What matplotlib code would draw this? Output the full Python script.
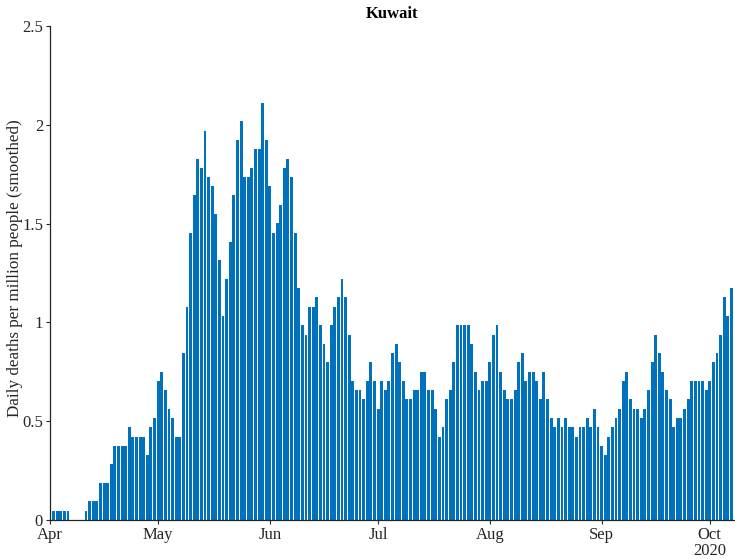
import pandas as pd
import matplotlib
matplotlib.use("Agg")
import matplotlib.pyplot as plt
import matplotlib.dates as mdates

# daily deaths per million (smoothed), Kuwait, 2 Apr - 7 Oct 2020
apr = [0.047, 0.047, 0.047, 0.047, 0.047, 0, 0, 0, 0, 0.047,
       0.094, 0.094, 0.094, 0.188, 0.188, 0.188, 0.281, 0.375, 0.375, 0.375,
       0.375, 0.469, 0.422, 0.422, 0.422, 0.422, 0.328, 0.469, 0.516]
may = [0.704, 0.750, 0.657, 0.563, 0.516, 0.422, 0.422, 0.844, 1.079, 1.454,
       1.642, 1.829, 1.782, 1.970, 1.735, 1.688, 1.548, 1.313, 1.032, 1.219,
       1.407, 1.642, 1.923, 2.017, 1.735, 1.735, 1.782, 1.876, 1.876, 2.111,
       1.923]
jun = [1.688, 1.454, 1.501, 1.595, 1.782, 1.829, 1.735, 1.454, 1.173, 0.985,
       0.938, 1.079, 1.079, 1.126, 0.985, 0.891, 0.797, 0.985, 1.079, 1.126,
       1.219, 1.126, 0.938, 0.704, 0.657, 0.657, 0.610, 0.704, 0.797, 0.704]
jul = [0.563, 0.704, 0.657, 0.704, 0.844, 0.891, 0.797, 0.704, 0.610, 0.610,
       0.657, 0.657, 0.750, 0.750, 0.657, 0.657, 0.563, 0.422, 0.469, 0.610,
       0.657, 0.797, 0.985, 0.985, 0.985, 0.985, 0.891, 0.750, 0.657, 0.704,
       0.704]
aug = [0.797, 0.938, 0.985, 0.750, 0.657, 0.610, 0.610, 0.657, 0.797, 0.844,
       0.704, 0.750, 0.750, 0.704, 0.610, 0.750, 0.610, 0.516, 0.469, 0.516,
       0.469, 0.516, 0.469, 0.469, 0.422, 0.469, 0.469, 0.516, 0.469, 0.563,
       0.469]
sep = [0.375, 0.328, 0.422, 0.469, 0.516, 0.563, 0.704, 0.750, 0.610, 0.563,
       0.563, 0.516, 0.563, 0.657, 0.797, 0.938, 0.844, 0.750, 0.657, 0.610,
       0.469, 0.516, 0.516, 0.563, 0.610, 0.704, 0.704, 0.704, 0.704, 0.657]
octo = [0.704, 0.797, 0.844, 0.938, 1.126, 1.032, 1.173]

deaths = apr + may + jun + jul + aug + sep + octo
dates = pd.date_range("2020-04-02", periods=len(deaths), freq="D")

plt.rcParams['font.family'] = ['Liberation Serif', 'DejaVu Serif']

fig = plt.figure(figsize=(7.35, 5.59), dpi=100)
ax = fig.add_axes([0.068, 0.070, 0.932, 0.8835])

ax.bar(dates, deaths, width=0.8, color='#0072BD', edgecolor='none')

ax.set_xlim(pd.Timestamp("2020-04-01"), pd.Timestamp("2020-10-08"))
ax.set_ylim(0, 2.5)
ax.set_yticks([0, 0.5, 1, 1.5, 2, 2.5])
ax.set_yticklabels(["0", "0.5", "1", "1.5", "2", "2.5"])
ax.xaxis.set_major_locator(mdates.MonthLocator())
ax.xaxis.set_major_formatter(mdates.DateFormatter("%b"))

for s in ['top', 'right']:
    ax.spines[s].set_visible(False)
for s in ['left', 'bottom']:
    ax.spines[s].set_color('#262626')
    ax.spines[s].set_linewidth(0.9)
ax.tick_params(direction='out', length=3, width=0.8, colors='#262626',
               labelsize=12, pad=2)

ax.set_ylabel("Daily deaths per million people (smoothed)", fontsize=12.3,
              color='#262626')
ax.yaxis.set_label_coords(-0.040, 0.51)
ax.set_title("Kuwait", fontsize=12, fontweight='bold', color='#000000', pad=6)

ax.annotate("2020", xy=(pd.Timestamp("2020-10-01"), 0), xycoords=('data', 'axes fraction'),
            xytext=(0, -17), textcoords='offset points', ha='center', va='top',
            fontsize=12, color='#262626')

fig.savefig("out.png", dpi=100)
